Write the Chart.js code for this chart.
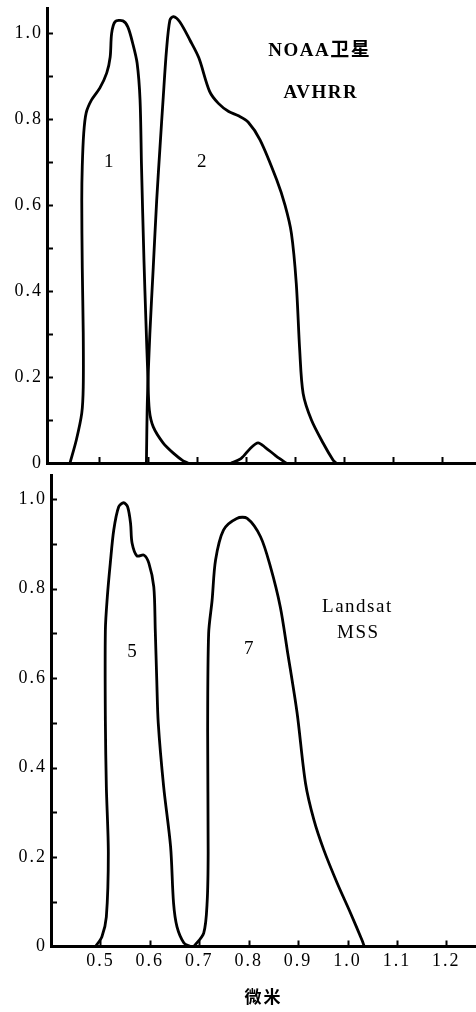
<!DOCTYPE html>
<html>
<head>
<meta charset="utf-8">
<script src="https://cdn.jsdelivr.net/npm/chart.js@4.4.0/dist/chart.umd.min.js"></script>
<style>
  html, body { margin: 0; padding: 0; background: #fff; }
  #wrap { position: relative; width: 476px; height: 1012px; overflow: hidden; }
  canvas { position: absolute; left: 0; }
  #avhrr { top: 0; }
  #mss { top: 470px; }
</style>
</head>
<body>
<div id="wrap">
  <canvas id="avhrr" width="476" height="472"></canvas>
  <canvas id="mss" width="476" height="542"></canvas>
</div>
<script>
// spectral response curves, wavelength in micrometres vs relative response
const band1Wl   = [0.441, 0.454, 0.465, 0.468, 0.468, 0.466, 0.465, 0.466, 0.469, 0.474, 0.485, 0.502, 0.516, 0.523, 0.526, 0.533, 0.549, 0.559, 0.569, 0.578, 0.584, 0.587, 0.592, 0.596, 0.600, 0.603, 0.611, 0.631, 0.652, 0.672, 0.682];
const band1Resp = [0,     0.054, 0.116, 0.177, 0.303, 0.456, 0.612, 0.690, 0.768, 0.815, 0.845, 0.873, 0.908, 0.945, 1.000, 1.027, 1.029, 1.015, 0.977, 0.931, 0.845, 0.690, 0.472, 0.330, 0.200, 0.123, 0.084, 0.047, 0.023, 0.005, 0];

const band1bWl   = [0.770, 0.790, 0.810, 0.825, 0.840, 0.860, 0.882];
const band1bResp = [0,     0.010, 0.035, 0.047, 0.036, 0.018, 0];

const band2Wl   = [0.597, 0.599, 0.604, 0.611, 0.618, 0.625, 0.631, 0.638, 0.645, 0.652, 0.665, 0.686, 0.704, 0.726, 0.744, 0.765, 0.785, 0.805, 0.829, 0.863, 0.880, 0.893, 0.903, 0.910, 0.917, 0.934, 0.958, 0.978, 0.984];
const band2Resp = [0,     0.147, 0.300, 0.456, 0.612, 0.740, 0.845, 0.961, 1.031, 1.039, 1.027, 0.984, 0.943, 0.865, 0.837, 0.818, 0.808, 0.793, 0.752, 0.659, 0.600, 0.535, 0.418, 0.263, 0.162, 0.100, 0.046, 0.007, 0];

const band5Wl   = [0.490, 0.503, 0.512, 0.516, 0.512, 0.510, 0.510, 0.514, 0.520, 0.527, 0.537, 0.547, 0.555, 0.561, 0.564, 0.574, 0.588, 0.598, 0.608, 0.611, 0.614, 0.617, 0.628, 0.642, 0.648, 0.655, 0.669, 0.682];
const band5Resp = [0,     0.022, 0.066, 0.209, 0.357, 0.506, 0.707, 0.782, 0.857, 0.931, 0.983, 0.992, 0.983, 0.946, 0.902, 0.873, 0.875, 0.857, 0.804, 0.707, 0.596, 0.500, 0.357, 0.223, 0.097, 0.044, 0.008, 0];

const band7Wl   = [0.689, 0.709, 0.716, 0.718, 0.717, 0.719, 0.726, 0.733, 0.749, 0.776, 0.797, 0.824, 0.844, 0.864, 0.878, 0.898, 0.915, 0.932, 0.952, 0.979, 1.006, 1.029, 1.034];
const band7Resp = [0,     0.030, 0.100, 0.210, 0.480, 0.700, 0.774, 0.864, 0.931, 0.957, 0.957, 0.916, 0.849, 0.759, 0.663, 0.522, 0.365, 0.283, 0.216, 0.142, 0.075, 0.015, 0];

const yTicks      = [0, 0.2, 0.4, 0.6, 0.8, 1.0];
const yTickLabels = ['0', '0.2', '0.4', '0.6', '0.8', '1.0'];
const yMinorTicks = [0.1, 0.2, 0.3, 0.4, 0.5, 0.6, 0.7, 0.8, 0.9, 1.0];
const xTicks      = [0.5, 0.6, 0.7, 0.8, 0.9, 1.0, 1.1, 1.2];
const xTickLabels = ['0.5', '0.6', '0.7', '0.8', '0.9', '1.0', '1.1', '1.2'];
const xTitle = '微米';

const avhrrNotes = [
  { text: 'NOAA卫星', x: 0.951, y: 0.959, bold: true, spacing: 1.5 },
  { text: 'AVHRR', x: 0.953, y: 0.860, bold: true, spacing: 1.5 },
  { text: '1', x: 0.520, y: 0.700 },
  { text: '2', x: 0.710, y: 0.700 }
];
const mssNotes = [
  { text: 'Landsat', x: 1.020, y: 0.759, spacing: 1.5 },
  { text: 'MSS', x: 1.022, y: 0.700, spacing: 1.5 },
  { text: '5', x: 0.564, y: 0.658 },
  { text: '7', x: 0.800, y: 0.665 }
];

const SERIF = '"Liberation Serif", "Noto Sans CJK SC", serif';
Chart.defaults.font.family = SERIF;
Chart.defaults.color = '#000';

function pts(wl, resp) {
  return wl.map((x, i) => ({ x: x, y: resp[i] }));
}

function curve(wl, resp) {
  return {
    data: pts(wl, resp),
    borderColor: '#000',
    borderWidth: 2.8,
    pointRadius: 0,
    tension: 0.3,
    fill: false
  };
}

// inward tick marks and the text written inside the plot
function inkPlugin(notes) {
  return {
    id: 'ink',
    beforeDraw(chart) {
      chart.ctx.letterSpacing = '2px';
    },
    afterDraw(chart) {
      const { ctx, chartArea, scales } = chart;
      const x = scales.x, y = scales.y;
      ctx.save();
      ctx.strokeStyle = '#000';
      ctx.lineWidth = 2;
      ctx.beginPath();
      yMinorTicks.forEach(v => {
        const py = Math.round(y.getPixelForValue(v)) + 0.5;
        ctx.moveTo(chartArea.left, py);
        ctx.lineTo(chartArea.left + 6, py);
      });
      xTicks.forEach(v => {
        const px = Math.round(x.getPixelForValue(v)) + 0.5;
        ctx.moveTo(px, chartArea.bottom);
        ctx.lineTo(px, chartArea.bottom - 6);
      });
      ctx.stroke();
      ctx.fillStyle = '#000';
      ctx.textAlign = 'center';
      ctx.textBaseline = 'middle';
      notes.forEach(n => {
        ctx.font = (n.bold ? 'bold ' : '') + '19px ' + SERIF;
        ctx.letterSpacing = (n.spacing || 0) + 'px';
        ctx.fillText(n.text, x.getPixelForValue(n.x), y.getPixelForValue(n.y));
      });
      ctx.restore();
    }
  };
}

function makeChart(id, datasets, notes, cfg) {
  return new Chart(document.getElementById(id), {
    type: 'line',
    data: { datasets: datasets },
    options: {
      responsive: false,
      animation: false,
      devicePixelRatio: 1,
      events: [],
      layout: { padding: { top: cfg.padTop, left: 0, right: 0, bottom: 0 } },
      plugins: { legend: { display: false }, tooltip: { enabled: false } },
      scales: {
        x: {
          type: 'linear',
          min: cfg.xMin,
          max: cfg.xMax,
          afterBuildTicks: s => { s.ticks = xTicks.map(v => ({ value: v })); },
          afterFit: s => { s.height = cfg.xHeight; s.paddingLeft = 0; s.paddingRight = 0; },
          grid: { display: false, drawTicks: false },
          border: { display: true, color: '#000', width: 3 },
          ticks: {
            display: cfg.xLabels,
            maxRotation: 0,
            autoSkip: false,
            padding: 4,
            font: { size: 18 },
            callback: (v, i) => xTickLabels[i]
          },
          title: {
            display: cfg.xLabels,
            text: xTitle,
            font: { size: 17, weight: 'bold', family: '"Noto Sans CJK SC", sans-serif' },
            padding: { top: 0, bottom: 5 }
          }
        },
        y: {
          type: 'linear',
          min: 0,
          max: cfg.yMax,
          afterBuildTicks: s => { s.ticks = yTicks.map(v => ({ value: v })); },
          afterFit: s => { s.width = cfg.yWidth; s.paddingTop = 0; s.paddingBottom = 0; },
          grid: { display: false, drawTicks: false },
          border: { display: true, color: '#000', width: 3 },
          ticks: {
            padding: 4,
            font: { size: 18 },
            callback: (v, i) => yTickLabels[i]
          }
        }
      }
    },
    plugins: [inkPlugin(notes)]
  });
}

makeChart('avhrr',
  [curve(band1Wl, band1Resp), curve(band1bWl, band1bResp), curve(band2Wl, band2Resp)],
  avhrrNotes,
  { padTop: 8, xMin: 0.394, xMax: 1.27, yMax: 1.059, yWidth: 47, xHeight: 9, xLabels: false });

makeChart('mss',
  [curve(band5Wl, band5Resp), curve(band7Wl, band7Resp)],
  mssNotes,
  { padTop: 5, xMin: 0.4, xMax: 1.26, yMax: 1.054, yWidth: 51, xHeight: 65.5, xLabels: true });
</script>
</body>
</html>
